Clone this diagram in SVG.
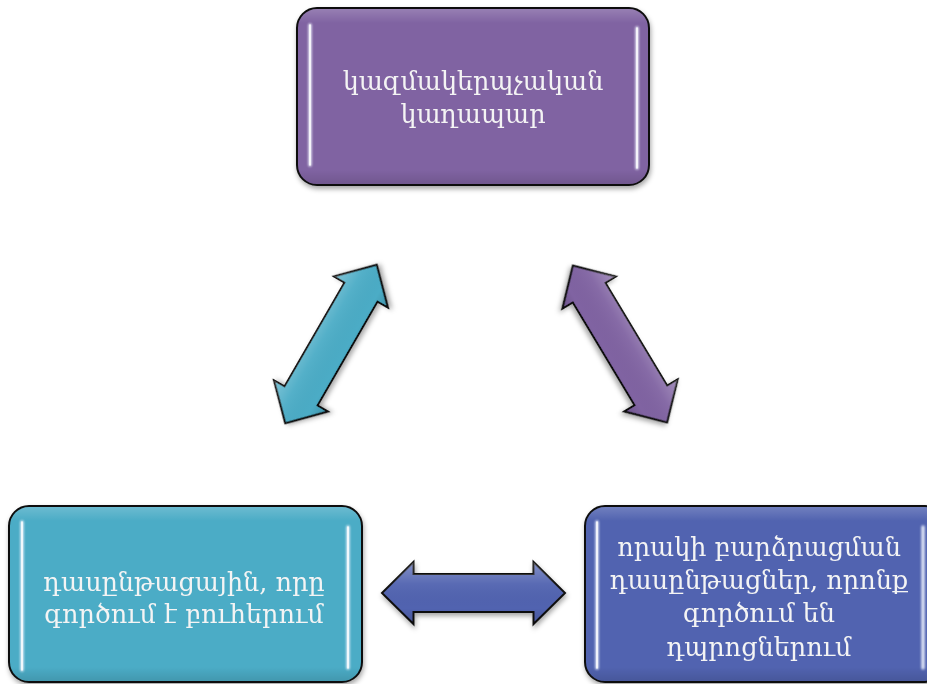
<svg xmlns="http://www.w3.org/2000/svg" width="927" height="684" viewBox="0 0 927 684">
<style>
.box{stroke:#111;stroke-width:2}
.txt{font-family:"DejaVu Serif","Liberation Serif",serif;font-size:25.5px;fill:#f4f4f4;text-anchor:middle}
.hl{stroke:#f0f4ff;stroke-width:3.5;stroke-linecap:round;opacity:0.9}
.arr{stroke:#111;stroke-width:2;stroke-linejoin:miter}
</style>
<defs>
<filter id="sh" x="-10%" y="-10%" width="120%" height="130%">
<feDropShadow dx="1" dy="3" stdDeviation="2.5" flood-color="#000" flood-opacity="0.35"/>
</filter>
<filter id="glow" x="-50%" y="-10%" width="200%" height="120%">
<feGaussianBlur stdDeviation="1.2"/>
</filter>
<linearGradient id="gloss" x1="0" y1="0" x2="0" y2="1">
<stop offset="0" stop-color="#fff" stop-opacity="0.18"/>
<stop offset="0.08" stop-color="#fff" stop-opacity="0"/>
<stop offset="0.92" stop-color="#000" stop-opacity="0"/>
<stop offset="1" stop-color="#000" stop-opacity="0.12"/>
</linearGradient>
<linearGradient id="agloss" x1="0" y1="0" x2="0" y2="1">
<stop offset="0" stop-color="#fff" stop-opacity="0.3"/>
<stop offset="0.35" stop-color="#fff" stop-opacity="0.05"/>
<stop offset="0.75" stop-color="#000" stop-opacity="0"/>
<stop offset="1" stop-color="#000" stop-opacity="0.15"/>
</linearGradient>
<path id="dbl" d="M-91.5,0 L-60,-31 L-60,-19 L60,-19 L60,-31 L91.5,0 L60,31 L60,19 L-60,19 L-60,31 Z"/>
</defs>

<g id="connectors">
<g transform="translate(331,344) rotate(-60)">
<use href="#dbl" class="arr" fill="#4BACC6" filter="url(#sh)"/>
<use href="#dbl" fill="url(#agloss)"/>
</g>
<g transform="translate(620,344) rotate(59)">
<use href="#dbl" class="arr" fill="#8064A2" filter="url(#sh)"/>
<use href="#dbl" fill="url(#agloss)"/>
</g>
<g transform="translate(473.5,593)">
<use href="#dbl" class="arr" fill="#5163B0" filter="url(#sh)"/>
<use href="#dbl" fill="url(#agloss)"/>
</g>
</g>

<g id="node-top">
<rect class="box" x="297" y="8" width="352" height="177" rx="20" fill="#8064A2" filter="url(#sh)"/>
<rect x="298" y="9" width="350" height="175" rx="19" fill="url(#gloss)"/>
<g filter="url(#glow)"><line class="hl" x1="310" y1="25" x2="310" y2="165"/><line class="hl" x1="637" y1="28" x2="637" y2="168"/></g>
<line x1="310" y1="25" x2="310" y2="165" stroke="#fff" stroke-width="1.5" stroke-linecap="round"/>
<line x1="637" y1="28" x2="637" y2="168" stroke="#fff" stroke-width="1.5" stroke-linecap="round"/>
<text class="txt" x="473" y="90">կազմակերպչական</text>
<text class="txt" x="473" y="123">կաղապար</text>
</g>

<g id="node-left">
<rect class="box" x="9" y="506" width="353" height="176" rx="20" fill="#4BACC6" filter="url(#sh)"/>
<rect x="10" y="507" width="351" height="174" rx="19" fill="url(#gloss)"/>
<g filter="url(#glow)"><line class="hl" x1="22" y1="522" x2="22" y2="670"/><line class="hl" x1="348" y1="527" x2="348" y2="668"/></g>
<line x1="22" y1="522" x2="22" y2="670" stroke="#fff" stroke-width="1.5" stroke-linecap="round"/>
<line x1="348" y1="527" x2="348" y2="668" stroke="#fff" stroke-width="1.5" stroke-linecap="round"/>
<text class="txt" x="184" y="591">դասընթացային, որը</text>
<text class="txt" x="184" y="623">գործում է բուհերում</text>
</g>

<g id="node-right">
<rect class="box" x="585" y="506" width="360" height="176" rx="20" fill="#5163B0" filter="url(#sh)"/>
<rect x="586" y="507" width="358" height="174" rx="19" fill="url(#gloss)"/>
<g filter="url(#glow)"><line class="hl" x1="597" y1="522" x2="597" y2="668"/><line class="hl" x1="923" y1="527" x2="923" y2="668"/></g>
<line x1="597" y1="522" x2="597" y2="668" stroke="#fff" stroke-width="1.5" stroke-linecap="round"/>
<text class="txt" x="759" y="556">որակի բարձրացման</text>
<text class="txt" x="759" y="589">դասընթացներ, որոնք</text>
<text class="txt" x="759" y="622">գործում են</text>
<text class="txt" x="759" y="656">դպրոցներում</text>
</g>
</svg>
